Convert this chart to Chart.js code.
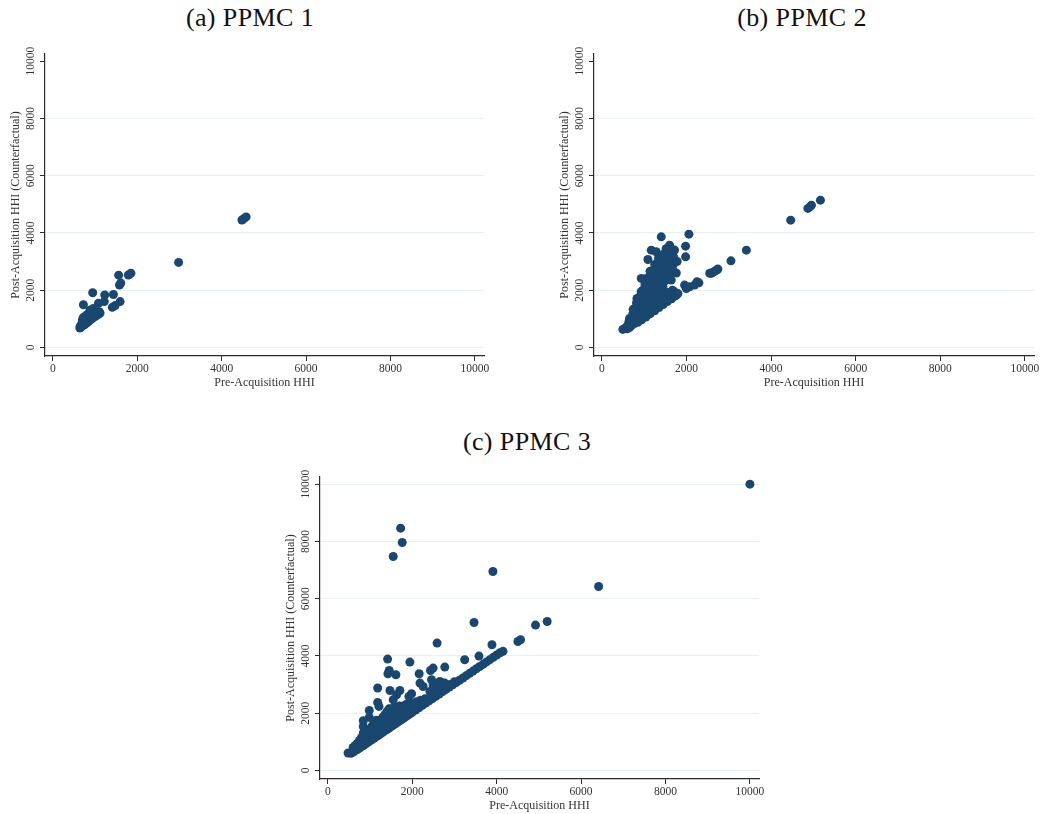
<!DOCTYPE html>
<html>
<head>
<meta charset="utf-8">
<script src="https://cdn.jsdelivr.net/npm/chart.js@4.4.0/dist/chart.umd.min.js"></script>
<style>
  body { margin: 0; background: #fff; overflow: hidden; width: 1043px; height: 814px; position: relative; }
  .panel { position: absolute; }
  .ttl { position: absolute; width: 300px; text-align: center; font-family: 'Liberation Serif', serif; font-size: 26px; line-height: 30px; color: #111; letter-spacing: 0.4px; }
</style>
</head>
<body>
<div class="ttl" style="left:100px; top:3px;">(a) PPMC 1</div>
<div class="ttl" style="left:652px; top:3px;">(b) PPMC 2</div>
<div class="ttl" style="left:377px; top:427px;">(c) PPMC 3</div>

<div class="panel" style="left:0px; top:30px; width:500px; height:370px;"><canvas id="chart1"></canvas></div>
<div class="panel" style="left:549px; top:30px; width:494px; height:370px;"><canvas id="chart2"></canvas></div>
<div class="panel" style="left:275px; top:450px; width:494px; height:364px;"><canvas id="chart3"></canvas></div>

<script>
// Eixos
const xTicks = [0, 2000, 4000, 6000, 8000, 10000];
const yTicks = [0, 2000, 4000, 6000, 8000, 10000];
const xLabel = 'Pre-Acquisition HHI';
const yLabel = 'Post-Acquisition HHI (Counterfactual)';

// PPMC 1: [pre, post]
const ppmc1Points = [
  [640,680],[650,740],[660,700],[670,780],[680,720],[690,830],[700,760],[710,880],[720,800],[730,840],
  [740,920],[750,790],[760,870],[770,960],[780,830],[790,900],[800,1000],[810,860],[820,940],[830,1040],
  [840,900],[850,980],[860,1080],[870,940],[880,1020],[890,1120],[900,980],[910,1060],[920,1160],[930,1010],
  [940,1100],[950,1200],[960,1050],[980,1140],[1000,1080],[1020,1180],[1040,1120],[1060,1220],[1080,1160],
  [1100,1250],[1120,1200],[700,960],[720,1040],[760,1080],[810,1140],[880,1300],[960,1360],[1040,1190],
  [725,1490],[945,1910],[1080,1540],[1220,1600],[1230,1830],[1436,1850],[1410,1400],[1476,1460],[1595,1600],
  [1560,2525],[1580,2180],[1610,2250],[1790,2530],[1850,2590],[2980,2970],[4480,4450],[4530,4500],[4580,4560]
];

// PPMC 2
const ppmc2Points = [
  [497,629],[560,690],[600,650],[615,780],[640,900],[655,1010],[660,700],[700,760],[700,900],[710,1050],
  [734,1180],[740,1330],[760,820],[780,960],[800,1100],[810,1250],[814,1400],[820,1560],[830,1711],[850,880],
  [870,1030],[880,1180],[892,1330],[900,1480],[905,1630],[910,1800],[930,1950],[940,960],[950,1110],[960,1260],
  [970,1420],[980,1580],[990,1740],[1000,1890],[1010,2050],[1020,2200],[1030,2400],[1040,1060],[1050,1220],
  [1060,1380],[1070,1530],[1080,1690],[1090,1850],[1100,2010],[1110,2170],[1120,2330],[1130,2500],[1140,2660],
  [1089,3073],[1140,1170],[1150,1330],[1160,1480],[1170,1640],[1180,1790],[1190,1950],[1200,2100],[1210,2260],
  [1220,2420],[1230,2580],[1240,2740],[1250,2900],[1168,3398],[1250,1280],[1260,1440],[1270,1600],[1280,1760],
  [1290,1920],[1300,2080],[1310,2240],[1286,2641],[1320,2800],[1330,2960],[1286,3340],[1340,3120],[1350,1390],
  [1360,1550],[1370,1710],[1380,1870],[1365,2934],[1400,2500],[1410,2680],[1420,3000],[1430,3200],[1405,3863],
  [1450,1500],[1460,1660],[1470,1820],[1444,2117],[1480,2300],[1490,2600],[1500,2820],[1510,3050],[1483,3283],
  [1520,3450],[1550,1600],[1560,1760],[1570,1920],[1580,2500],[1590,2700],[1600,2900],[1610,3100],[1620,3300],
  [1602,3573],[1641,3224],[1641,2351],[1650,1700],[1660,1860],[1670,2000],[1680,2700],[1690,2900],[1700,3150],
  [1720,3400],[1720,1942],[1740,1800],[1760,1827],[1760,2600],[1780,3000],[1800,1880],
  [932,2410],[970,2001],[1050,2117],[1128,2291],[1326,2466],[1444,2815],[1956,2176],[1980,3165],[1980,3538],
  [1997,2060],[2058,3957],[2075,2117],[2193,2176],[2248,2291],[2295,2256],[2550,2590],[2590,2590],[2630,2630],
  [2670,2665],[2710,2700],[2744,2735],[3052,3025],[3416,3398],[4464,4446],[4870,4855],[4920,4910],[4954,4970],
  [5167,5145]
];

// PPMC 3
const ppmc3Points = [
  [480,610],[550,600],[600,640],[650,690],[700,730],[750,780],[800,830],[850,880],[900,930],[950,980],
  [1000,1030],[1050,1080],[1100,1130],[1150,1180],[1200,1230],[1250,1280],[1300,1330],[1350,1380],[1400,1430],
  [1450,1480],[1500,1530],[1550,1580],[1600,1630],[1650,1680],[1700,1730],[1750,1780],[1800,1830],[1850,1880],
  [1900,1930],[1950,1980],[2000,2030],[2080,2110],[2160,2190],[2240,2270],[2320,2350],[2400,2430],[2480,2510],
  [2560,2590],[2640,2670],[2720,2750],[2800,2830],[2880,2910],[2960,2990],[3040,3070],[3120,3150],[3200,3230],
  [3280,3310],[3360,3390],[3440,3470],[3520,3550],[3600,3630],[3680,3710],[3760,3790],[3840,3870],[3920,3950],
  [4000,4030],[4080,4110],[4150,4160],
  [600,800],[650,870],[700,850],[750,950],[800,900],[800,1050],[850,1000],[900,1100],[950,1050],[950,1250],
  [1000,1200],[1050,1150],[1050,1350],[1100,1300],[1150,1250],[1150,1450],[1200,1400],[1250,1350],[1250,1550],
  [1300,1500],[1350,1450],[1350,1650],[1400,1600],[1450,1550],[1450,1800],[1500,1700],[1500,1950],[1550,1650],
  [1550,1850],[1600,1750],[1600,2000],[1650,1850],[1700,1950],[1700,2100],[1750,1900],[1800,2000],[1800,2150],
  [1850,1950],[1900,2100],[1950,2050],[2000,2200],[2050,2150],[2100,2250],[2200,2300],[2300,2400],[2400,2500],
  [2450,2700],[2500,2800],[2550,2650],[2550,2900],[2600,2750],[2650,2950],[2700,2850],[2750,3000],[2800,2900],
  [2900,3000],[3000,3100],
  [1000,1450],[1050,1550],[1100,1650],[1150,1750],[1200,1600],[1250,1750],[1300,1850],[1350,1950],[1400,2050],
  [1450,2150],[1500,2150],[1550,2150],[1600,2200],[1650,2150],[1700,2250],[1750,2200],[1800,2250],[1850,2300],
  [1900,2300],[1950,2300],[2000,2350],[2100,2400],[2200,2450],[2300,2500],[900,1300],[950,1400],[850,1150],
  [800,1150],[750,1050],[700,950],[1100,1500],[1200,1500],[1300,1650],[1400,1800],[1350,1750],[1250,1600],
  [1150,1550],
  [1181,2877],[1212,2235],[1181,2374],[983,2095],[983,1851],[841,1734],[841,1536],[841,1306],[1417,3889],
  [1455,3492],[1424,3376],[1613,3341],[1944,3785],[2164,3376],[2433,3492],[2495,3575],[2771,3610],[1472,2793],
  [1708,2793],[1630,2643],[1550,2468],[1984,2678],[1921,2584],[2183,3051],[2258,2933],[2457,3167],[2495,2992],
  [2656,3108],[2771,3051],[2417,2758],[2589,4448],[3243,3865],[3581,3994],[3889,4389],[4503,4504],[4566,4564],
  [3464,5168],[4921,5077],[5197,5203],[3912,6948],[6416,6425],[1550,7472],[1725,8464],[1763,7961],[10000,10000]
];

const markerColor = '#1a476f';
const gridColor = 'rgb(232,240,242)';
const axisColor = '#2b2b2b';
const textColor = '#333';
const serif = "'Liberation Serif', 'Times New Roman', serif";

function makeChart(id, points, pad, showTopGrid) {
  const ctx = document.getElementById(id).getContext('2d');
  return new Chart(ctx, {
    type: 'scatter',
    data: {
      datasets: [{
        data: points.map(p => ({ x: p[0], y: p[1] })),
        backgroundColor: markerColor,
        borderWidth: 0,
        pointRadius: 4.5,
        pointHoverRadius: 4.5
      }]
    },
    options: {
      responsive: true,
      maintainAspectRatio: false,
      animation: false,
      layout: { padding: pad },
      plugins: {
        legend: { display: false },
        tooltip: { enabled: false }
      },
      scales: {
        x: {
          type: 'linear',
          position: 'bottom',
          min: -185,
          max: 10215,
          afterBuildTicks: s => { s.ticks = xTicks.map(v => ({ value: v })); },
          afterFit: s => { s.height = 34; s.paddingLeft = 0; s.paddingRight = 0; },
          border: { display: true, color: axisColor, width: 1.2 },
          grid: { drawOnChartArea: false, drawTicks: true, tickLength: 5, tickColor: axisColor, tickWidth: 1 },
          ticks: {
            autoSkip: false, maxRotation: 0, padding: 1, color: textColor,
            font: { family: serif, size: 11.5 },
            callback: v => String(v)
          },
          title: {
            display: true, text: xLabel, color: textColor, padding: 0,
            font: { family: serif, size: 12 }
          }
        },
        y: {
          type: 'linear',
          min: -300,
          max: 10250,
          afterBuildTicks: s => { s.ticks = yTicks.map(v => ({ value: v })); },
          afterFit: s => { s.width = 45; s.paddingTop = 0; s.paddingBottom = 0; },
          border: { display: true, color: axisColor, width: 1.2 },
          grid: {
            color: c => (!showTopGrid && c.tick && c.tick.value === 10000) ? 'rgba(0,0,0,0)' : gridColor,
            lineWidth: 1,
            drawTicks: true, tickLength: 5, tickColor: axisColor, tickWidth: 1
          },
          ticks: {
            minRotation: 90, maxRotation: 90, crossAlign: 'center', padding: -5.4,
            color: textColor, font: { family: serif, size: 11.5 },
            callback: v => String(v)
          },
          title: {
            display: true, text: yLabel, color: textColor, padding: { top: 9, bottom: 0 },
            font: { family: serif, size: 12 }
          }
        }
      }
    }
  });
}

makeChart('chart1', ppmc1Points, { left: 0, right: 16, top: 24, bottom: 10 }, false);
makeChart('chart2', ppmc2Points, { left: 0, right: 9, top: 24, bottom: 10 }, false);
makeChart('chart3', ppmc3Points, { left: 0, right: 10, top: 27, bottom: 1 }, true);
</script>
</body>
</html>
